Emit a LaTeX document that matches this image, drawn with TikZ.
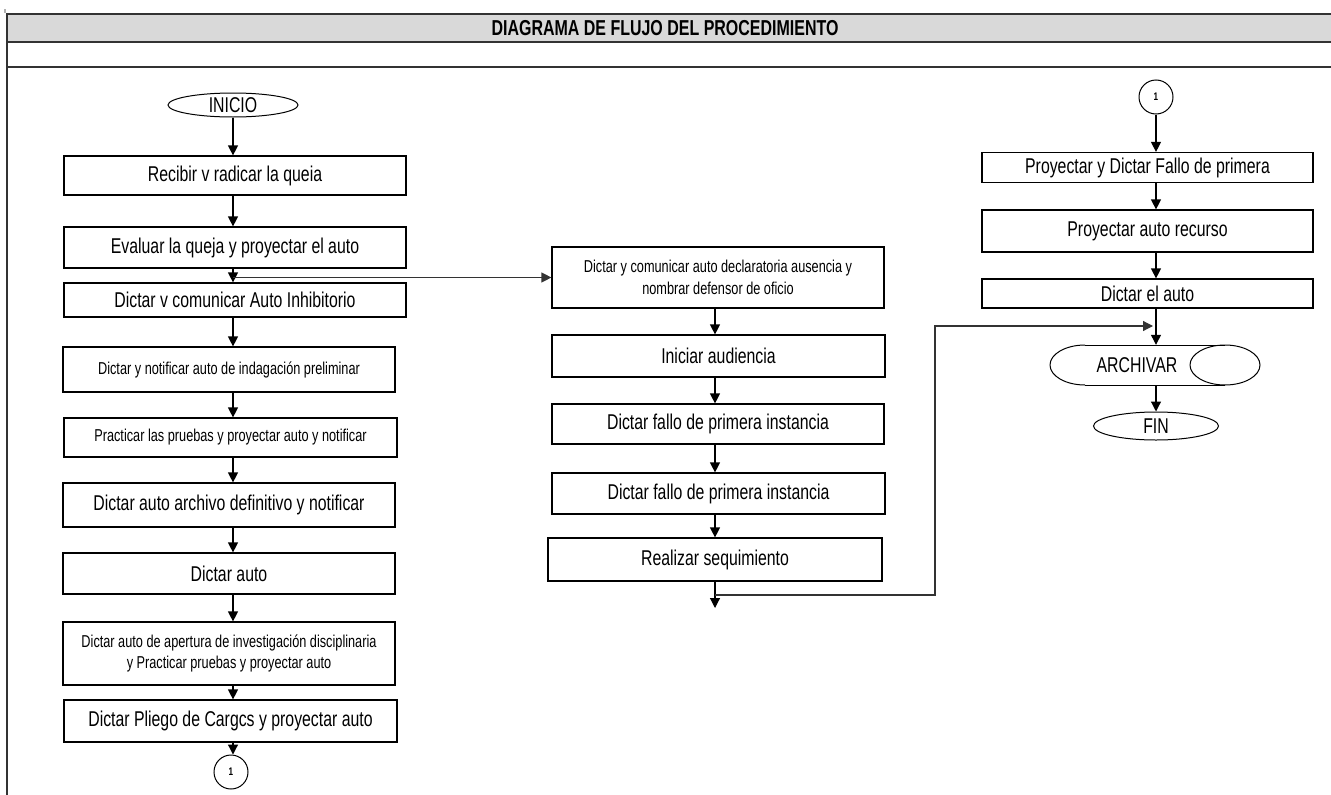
\documentclass[tikz,border=0pt]{standalone}
\usepackage{fontspec}
\setmainfont[FakeStretch=0.74]{Liberation Sans}
\usetikzlibrary{arrows.meta,shapes.geometric}
\newcommand\fbig{\fontsize{21.4}{25}\selectfont}
\newcommand\fsmall{\fontsize{17.2}{21.5}\selectfont}
\newcommand\fone{\fontsize{11}{12}\selectfont\bfseries}
\begin{document}
\begin{tikzpicture}[x=1pt,y=-1pt,
  box/.style={draw=black, line width=1.2pt, inner sep=0pt, align=center, font=\fbig, fill=white},
  sbox/.style={box, font=\fsmall},
  term/.style={draw=black, ellipse, line width=1pt, inner sep=0pt, font=\fbig},
  conn/.style={draw=black, circle, line width=1pt, inner sep=0pt, minimum size=34pt, font=\fone},
  arr/.style={draw=black, line width=1.2pt, -{Triangle[length=10pt,width=10pt]}},
  link/.style={draw=black!80, line width=1.2pt, -{Triangle[length=10pt,width=10pt]}},
  frame/.style={draw=black!80, line width=2pt}
]
\useasboundingbox (0,0) rectangle (1331,795);
% header frame
\fill[gray!30] (7,14) rectangle (1331,42);
\draw[frame] (7,14) -- (1331,14);
\draw[frame] (7,42) -- (1331,42);
\draw[frame] (7,67) -- (1331,67);
\draw[frame] (7,13) -- (7,795);
\draw[gray!60, line width=1.5pt] (5,9) -- (5,13);
\node[font=\fontsize{21.6}{24}\selectfont\bfseries] (title) at (665,28) {DIAGRAMA DE FLUJO DEL PROCEDIMIENTO};

% left column
\node[term, minimum width=130pt, minimum height=24pt] (inicio) at (233,105) {INICIO};
\node[box, minimum width=342pt, minimum height=39pt] (L1) at (235,175.5) {Recibir v radicar la queia};
\node[box, minimum width=342pt, minimum height=41pt] (L2) at (235,247.5) {Evaluar la queja y proyectar el auto};
\node[box, minimum width=342pt, minimum height=34pt] (L3) at (235,300) {Dictar v comunicar Auto Inhibitorio};
\node[sbox, minimum width=332pt, minimum height=45pt] (L4) at (229,369.5) {Dictar y notificar auto de indagación preliminar};
\node[sbox, minimum width=333pt, minimum height=39pt] (L5) at (230.5,437.5) {Practicar las pruebas y proyectar auto y notificar};
\node[box, minimum width=332pt, minimum height=44pt] (L6) at (229,505) {Dictar auto archivo definitivo y notificar};
\node[box, minimum width=332pt, minimum height=41pt] (L7) at (229,573.5) {Dictar auto};
\node[sbox, minimum width=332pt, minimum height=63pt] (L8) at (229,653.5) {Dictar auto de apertura de investigación disciplinaria\\y Practicar pruebas y proyectar auto};
\node[box, minimum width=333pt, minimum height=42pt] (L9) at (230.5,721) {Dictar Pliego de Cargcs y proyectar auto};
\node[conn] (c1) at (231,772) {1};

\draw[arr] (inicio.south) -- (inicio |- L1.north);
\draw[arr] (L1.south -| inicio) -- (inicio |- L2.north);
\draw[arr] (L2.south -| inicio) -- (inicio |- L3.north);
\draw[arr] (L3.south -| inicio) -- (inicio |- L4.north);
\draw[arr] (L4.south -| inicio) -- (inicio |- L5.north);
\draw[arr] (L5.south -| inicio) -- (inicio |- L6.north);
\draw[arr] (L6.south -| inicio) -- (inicio |- L7.north);
\draw[arr] (L7.south -| inicio) -- (inicio |- L8.north);
\draw[arr] (L8.south -| inicio) -- (inicio |- L9.north);
\draw[arr] (L9.south -| inicio) -- (inicio |- c1.north);

% middle column
\node[sbox, minimum width=332pt, minimum height=61pt] (M1) at (718,277.5) {Dictar y comunicar auto declaratoria ausencia y\\nombrar defensor de oficio};
\node[box, minimum width=333pt, minimum height=42pt] (M2) at (718.5,356) {Iniciar audiencia};
\node[box, minimum width=332pt, minimum height=40pt] (M3) at (718,424) {Dictar fallo de primera instancia};
\node[box, minimum width=333pt, minimum height=41pt] (M4) at (718.5,493.5) {Dictar fallo de primera instancia};
\node[box, minimum width=334pt, minimum height=43pt] (M5) at (715,559.5) {Realizar sequimiento};
\coordinate (mcol) at (715,600);
\coordinate (mend) at (715,608);
\coordinate (mj) at (715,595);
\coordinate (bend) at (935,326);
\coordinate (rj) at (1153,326);

\draw[link] (inicio |- M1.west) -- (M1.west);
\draw[arr] (M1.south -| mcol) -- (mcol |- M2.north);
\draw[arr] (M2.south -| mcol) -- (mcol |- M3.north);
\draw[arr] (M3.south -| mcol) -- (mcol |- M4.north);
\draw[arr] (M4.south -| mcol) -- (mcol |- M5.north);
\draw[arr] (M5.south) -- (mend);
\draw[link] (mj) -| (bend) -- (rj);

% right column
\node[conn] (c2) at (1156,97) {1};
\node[box, minimum width=331pt, minimum height=30pt] (R1) at (1147.5,167.5) {Proyectar y Dictar Fallo de primera};
\node[box, minimum width=331pt, minimum height=42pt] (R2) at (1147.5,231) {Proyectar auto recurso};
\node[box, minimum width=331pt, minimum height=29pt] (R3) at (1147.5,293.5) {Dictar el auto};
\node[minimum width=210pt, minimum height=40pt, inner sep=0pt] (arch) at (1155,365) {};
\draw[line width=1pt] (1085,345) -- (1225,345) (1085,385) -- (1225,385);
\draw[line width=1pt] (1085,345) arc[start angle=90, end angle=270, x radius=35pt, y radius=20pt];
\draw[line width=1pt] (1225,365) ellipse [x radius=35pt, y radius=20pt];
\node[font=\fbig] at (1137,365) {ARCHIVAR};
\node[term, minimum width=125pt, minimum height=28pt] (fin) at (1156,426) {FIN};

\draw[arr] (c2.south) -- (c2.south |- R1.north);
\draw[arr] (R1.south -| c2) -- (c2 |- R2.north);
\draw[arr] (R2.south -| c2) -- (c2 |- R3.north);
\draw[arr] (R3.south -| c2) -- (c2 |- arch.north);
\draw[arr] (arch.south -| c2) -- (fin.north);
\end{tikzpicture}
\end{document}
